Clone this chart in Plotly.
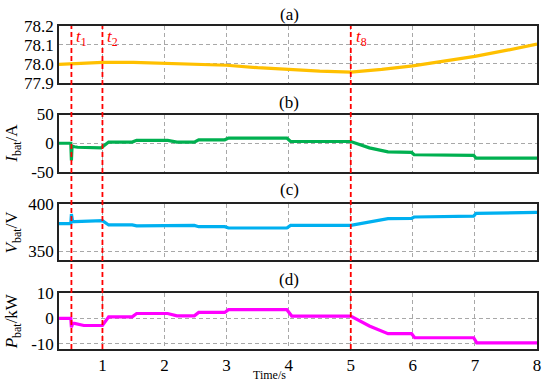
import plotly.graph_objects as go
from plotly.subplots import make_subplots

# ---- data ----
soc_t = [0.3, 1.0, 1.5, 2.0, 2.5, 3.0, 3.5, 4.0, 4.5, 5.0, 5.5, 6.0, 6.5, 7.0, 7.5, 8.0]
soc_v = [77.997, 78.008, 78.008, 78.002, 77.997, 77.993, 77.980, 77.969, 77.962, 77.957,
         77.971, 77.990, 78.015, 78.040, 78.071, 78.105]

cur_t = [0.3, 0.49, 0.5, 0.51, 0.55, 0.6, 0.98, 1.05, 1.1, 1.48, 1.55, 2.05, 2.2, 2.48, 2.55,
         2.97, 3.03, 3.97, 4.03, 5.0, 5.3, 5.6, 5.98, 6.02, 6.98, 7.02, 8.0]
cur_v = [0, 0, -30, -5, -6, -7, -8, -2, 2, 2, 5, 5, 2, 2, 6, 6, 9, 9, 3, 3, -8, -15, -16, -20,
         -21, -26, -26]

vol_t = [0.3, 0.49, 0.5, 0.52, 0.55, 1.0, 1.1, 1.48, 1.55, 2.0, 2.05, 2.48, 2.55, 2.97, 3.03,
         3.97, 4.03, 5.0, 5.6, 5.98, 6.02, 6.98, 7.02, 8.0]
vol_v = [379, 379, 389, 381, 381, 382, 377.5, 377.5, 376.5, 376.5, 377, 377, 375.7, 375.7,
         374.3, 374.3, 377.1, 377.1, 384.2, 384.5, 385.9, 386.8, 389.8, 390.8]

pow_t = [0.3, 0.49, 0.5, 0.52, 0.55, 0.7, 1.0, 1.1, 1.48, 1.55, 2.05, 2.2, 2.48, 2.55, 2.97,
         3.03, 3.97, 4.05, 5.0, 5.3, 5.6, 5.98, 6.03, 6.98, 7.03, 8.0]
pow_v = [0, 0, -3.5, -2.0, -2.0, -2.8, -2.8, 0.6, 0.6, 1.9, 1.9, 1.0, 1.0, 2.3, 2.3, 3.4, 3.4,
         0.9, 0.9, -3.0, -6.0, -6.0, -7.6, -7.6, -9.6, -9.6]

event_t = [0.5, 1.0, 5.0]
event_lbl = ["1", "2", "8"]
panel_lbl = ["(a)", "(b)", "(c)", "(d)"]
x_ticks = [1, 2, 3, 4, 5, 6, 7, 8]

FONT = "Liberation Serif, Times New Roman, serif"
domains = [(0.824, 1.0), (0.548, 0.726), (0.274, 0.450), (0.0, 0.174)]
yranges = [(77.9, 78.2), (-50, 50), (340, 400), (-12, 10)]
yticks = [[77.9, 78.0, 78.1, 78.2], [-50, 0, 50], [350, 400], [-10, 0, 10]]
yticktext = [["77.9", "78.0", "78.1", "78.2"], ["-50", "0", "50"], ["350", "400"], ["-10", "0", "10"]]
ytitles = [None, "<i>I</i><sub>bat</sub>/A", "<i>V</i><sub>bat</sub>/V", "<i>P</i><sub>bat</sub>/kW"]
colors = ["#FFC000", "#00B050", "#00B0F0", "#FF00FF"]
series = [(soc_t, soc_v), (cur_t, cur_v), (vol_t, vol_v), (pow_t, pow_v)]

fig = make_subplots(rows=4, cols=1, shared_xaxes=True)
for i, ((t, v), c) in enumerate(zip(series, colors)):
    fig.add_trace(go.Scatter(x=t, y=v, mode="lines", line=dict(color=c, width=3.2),
                             showlegend=False), row=i + 1, col=1)

grid = dict(showgrid=True, gridcolor="#A8A8A8", gridwidth=1, griddash="4px,3px")
for i in range(4):
    fig.update_yaxes(domain=list(domains[i]), range=list(yranges[i]), tickvals=yticks[i],
                     ticktext=yticktext[i], showline=True, linecolor="#222", linewidth=1.5,
                     mirror=True, ticks="", zeroline=False,
                     tickfont=dict(family=FONT, size=17, color="black"), **grid,
                     row=i + 1, col=1)
    fig.update_xaxes(range=[0.3, 8], tickvals=x_ticks, showline=True, linecolor="#222",
                     linewidth=1.5, mirror=True, ticks="", zeroline=False,
                     showticklabels=(i == 3),
                     tickfont=dict(family=FONT, size=17, color="black"), **grid,
                     row=i + 1, col=1)

anns = []
panel_px = [14, 102.7, 190, 280.7]
for lbl, py in zip(panel_lbl, panel_px):
    anns.append(dict(text=lbl, xref="paper", yref="paper", x=(291 - 59) / 482,
                     y=(350 - py) / 324, showarrow=False, xanchor="center", yanchor="middle",
                     font=dict(family=FONT, size=17, color="black")))
for i, t in enumerate(ytitles):
    if t is None:
        continue
    d = domains[i]
    anns.append(dict(text=t, xref="paper", yref="paper", x=(13 - 59) / 482,
                     y=(d[0] + d[1]) / 2, textangle=-90, showarrow=False,
                     xanchor="center", yanchor="middle",
                     font=dict(family=FONT, size=17, color="black")))
anns.append(dict(text="Time/s", xref="paper", yref="paper", x=(271.5 - 59) / 482,
                 y=(350 - 376) / 324, showarrow=False, xanchor="center", yanchor="middle",
                 font=dict(family=FONT, size=12, color="black")))
for t, l in zip(event_t, event_lbl):
    anns.append(dict(text="<i>t</i><sub>" + l + "</sub>", xref="x4", yref="paper", x=t,
                     y=(350 - 38) / 324, showarrow=False, xanchor="left", yanchor="middle",
                     xshift=3, font=dict(family=FONT, size=17, color="#FF0000")))

shapes = []
for t in event_t:
    shapes.append(dict(type="line", xref="x4", yref="paper", x0=t, x1=t, y0=0, y1=1,
                       line=dict(color="#FF0000", width=1.8, dash="5px,3px")))

fig.update_layout(width=550, height=384, margin=dict(l=59, r=9, t=26, b=34),
                  paper_bgcolor="white", plot_bgcolor="white", annotations=anns,
                  shapes=shapes, font=dict(family=FONT))
fig.write_html("out.html", config={"displayModeBar": False},
               post_script="document.body.style.margin='0px';")
